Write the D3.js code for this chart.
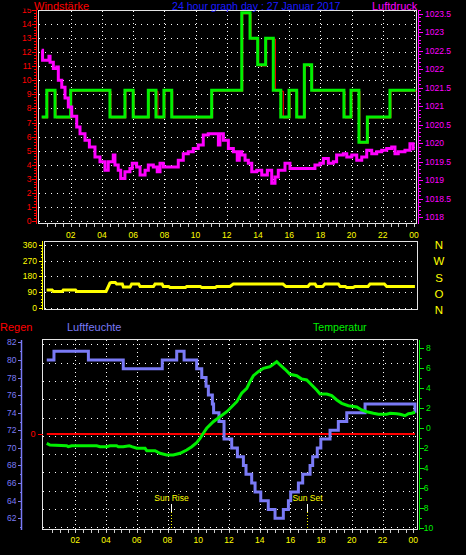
<!DOCTYPE html>
<html><head><meta charset="utf-8">
<script src="https://cdn.jsdelivr.net/npm/d3@7/dist/d3.min.js"></script>
<style>html,body{margin:0;padding:0;background:#000;}svg{display:block;}</style>
</head><body>
<svg id="c" width="466" height="555"></svg>
<script>
// ---------------- DATA ----------------
const hourTicks = [2,4,6,8,10,12,14,16,18,20,22,24];
const hourLabels = ["02","04","06","08","10","12","14","16","18","20","22","00"];

// wind speed (km/h) step series
const windTime  = [0.13,0.46,0.99,1.99,4.51,5.47,6.0,6.97,7.46,7.97,8.47,11.03,12.96,13.49,13.98,14.49,14.98,15.46,15.99,16.48,16.97,17.44,19.51,19.96,20.47,21.01,22.46,24.1];
const windSpeed = [7.4,9.3,7.4,9.3,7.4,9.3,7.4,9.3,7.4,9.3,7.4,9.3,14.8,13.0,11.1,13.0,9.3,7.4,9.3,7.4,11.1,9.3,7.4,9.3,5.6,7.4,9.3,9.3];
// gust (red, under the wind line)
const gustTime  = [0.13,0.46,0.99,1.99,4.51,5.47,6.0,6.97,7.52,7.97,8.47,11.03,12.96,13.49,13.98,14.49,15.05,15.56,15.99,16.48,16.97,17.44,19.51,19.96,20.47,21.01,22.46,24.1];
const gustSpeed = [7.4,9.3,7.4,9.3,7.4,9.3,7.4,9.3,7.4,9.3,7.4,9.3,14.8,13.0,11.1,13.0,9.3,7.4,9.3,7.4,11.1,9.3,7.4,9.3,5.6,7.4,9.3,9.3];

// pressure (hPa)
const presTime = [0.13,0.19,0.54,0.6,0.67,0.88,1.1,1.2,1.42,1.63,1.84,2.06,2.38,2.59,2.91,3.19,3.55,3.87,4.19,4.40,4.72,4.83,5.04,5.2,5.47,5.79,5.94,6.22,6.44,6.76,6.97,7.29,7.54,7.72,7.93,8.57,8.89,9.21,9.53,9.85,10.17,10.49,10.81,11.13,11.46,11.56,11.78,12.1,12.42,12.67,12.8,12.96,13.17,13.38,13.6,13.92,14.24,14.6,14.88,15.09,15.3,15.73,16.05,17.22,17.44,17.65,17.97,18.19,18.51,18.83,19.04,19.47,19.69,20.01,20.33,20.65,20.97,21.29,21.61,21.93,22.25,22.57,22.78,22.99,23.42,23.74,23.95];
const presVal  = [1022.51,1022.24,1022.24,1022.35,1022.19,1022.02,1022.06,1021.70,1021.51,1021.22,1020.98,1020.73,1020.44,1020.26,1020.08,1019.90,1019.63,1019.50,1019.27,1019.50,1019.68,1019.41,1019.27,1019.05,1019.23,1019.32,1019.46,1019.36,1019.14,1019.27,1019.41,1019.36,1019.23,1019.46,1019.36,1019.36,1019.54,1019.72,1019.77,1019.86,1019.95,1020.22,1020.26,1020.26,1019.95,1020.26,1020.08,1019.86,1019.77,1019.54,1019.77,1019.68,1019.54,1019.46,1019.23,1019.27,1019.14,1019.27,1018.92,1019.09,1019.27,1019.46,1019.32,1019.32,1019.32,1019.41,1019.46,1019.59,1019.46,1019.50,1019.68,1019.72,1019.63,1019.68,1019.54,1019.63,1019.81,1019.72,1019.77,1019.81,1019.86,1019.90,1019.72,1019.77,1019.81,1019.99,1019.81];

// wind direction (degrees)
const dirTime = [0.45,0.8,0.88,1.45,1.52,2.3,2.38,4.26,4.51,4.6,4.85,4.94,5.3,5.37,5.8,5.9,6.35,6.44,7.3,7.4,7.85,7.93,8.28,8.36,9.35,9.43,10.3,10.39,11.27,11.35,12.2,12.42,15.6,15.79,17.2,17.33,17.66,17.76,18.15,18.29,19.15,19.26,19.6,19.68,20.1,20.22,21.05,21.18,22.1,22.25,24.06];
const dirVal  = [103,103,94,94,103,103,94,94,142,145,145,136,136,119,119,136,136,122,122,136,136,122,122,117,117,122,122,117,117,122,122,136,136,122,122,136,136,122,122,136,136,122,122,117,117,122,122,136,136,122,122];
const dirTicks = [0,90,180,270,360];
const dirLetters = ["N","O","S","W","N"];

// humidity (%) step series
const humTime = [0.14,0.61,2.85,5.12,7.66,8.6,9.08,9.9,10.23,10.51,10.66,10.92,11.0,11.35,11.68,12.18,12.55,12.94,13.11,13.48,13.70,14.07,14.56,15.0,15.54,15.87,16.02,16.52,16.80,17.28,17.45,17.75,17.98,18.58,19.12,19.67,20.86,24.11];
const humVal  = [80,81,80,79,80,81,80,79,78,77,76,75,74,73,71,70,69,68,67,66,65,64,63,62,63,64,65,66,67,68,69,70,71,72,73,74,75,74];

// temperature (°C)
const tempTime = [0.14,0.35,1.44,1.54,1.76,3.39,3.61,4.04,4.26,4.69,4.8,5.12,5.51,5.67,6.0,6.54,6.65,7.19,7.51,7.95,8.38,8.82,9.25,9.58,9.9,10.12,10.33,10.55,10.98,11.86,12.51,12.83,13.16,13.37,13.59,13.91,14.24,14.67,15.11,15.33,15.65,15.98,16.41,16.74,17.06,17.39,17.71,17.93,18.37,18.69,19.02,19.34,19.77,20.32,20.64,20.97,21.4,21.73,22.27,22.49,22.92,23.14,23.46,23.68,23.9,24.11];
const tempVal  = [-1.56,-1.73,-1.8,-1.9,-1.8,-1.8,-1.9,-1.9,-1.8,-1.8,-1.9,-1.9,-1.8,-1.9,-2.06,-2.06,-2.3,-2.3,-2.56,-2.73,-2.73,-2.56,-2.23,-1.9,-1.5,-1.06,-0.56,-0.06,0.6,1.6,2.6,3.44,3.94,4.6,5.2,5.6,5.94,6.1,6.6,6.27,5.84,5.34,5.2,4.87,4.77,4.27,3.77,3.37,3.37,3.2,2.77,2.44,2.2,2.07,1.77,1.6,1.44,1.34,1.34,1.44,1.4,1.34,1.2,1.4,1.44,1.54];

// rain (mm)
const rainTime = [0.14,24.11];
const rainVal  = [0,0];

const sunTime  = [8.25,17.1];
const sunLabel = ["Sun Rise","Sun Set"];

// ---------------- DRAW ----------------
const FONT = "'Liberation Sans', Arial, sans-serif";
const svg = d3.select("#c");
svg.append("rect").attr("width",466).attr("height",555).attr("fill","#000");

const RED="#ff0000", GREEN="#00f000", MAG="#ff00ff", YEL="#ffff00", LAV="#7a7af5", BLUE="#1a1aff", BORDER="#e4e4e4";

function txt(x,y,s,fill,size,anchor){
  return svg.append("text").attr("x",x).attr("y",y).text(s).attr("fill",fill)
    .attr("font-family",FONT).attr("font-size",size).attr("text-anchor",anchor||"start");
}
function hline(g,x1,x2,y,stroke,dash){
  return g.append("line").attr("x1",x1).attr("x2",x2).attr("y1",y).attr("y2",y)
    .attr("stroke",stroke).attr("stroke-width",1).attr("stroke-dasharray",dash||null).attr("shape-rendering","crispEdges");
}
function vline(g,x,y1,y2,stroke,dash){
  return g.append("line").attr("x1",x).attr("x2",x).attr("y1",y1).attr("y2",y2)
    .attr("stroke",stroke).attr("stroke-width",1).attr("stroke-dasharray",dash||null).attr("shape-rendering","crispEdges");
}
const zip = (a,b)=>a.map((t,i)=>[t,b[i]]);

// ===== Top panel =====
const T = {left:38.5, right:416.5, top:10.5, bottom:223.5};
const xTop = d3.scaleLinear().domain([0,24]).range([39.6,414]);
const yWind = d3.scaleLinear().domain([0,15]).range([221,10]);
const yPres = d3.scaleLinear().domain([1017.9,1023.6]).range([221,10]);
const gT = svg.append("g");
d3.range(0,15).forEach(v=>hline(gT,T.left,T.right,Math.round(yWind(v))+0.5,"#fff","1,5"));
hourTicks.forEach(h=>vline(gT,Math.round(xTop(h))+0.5,T.top,T.bottom,"#fff","1,3"));
gT.append("rect").attr("x",T.left).attr("y",T.top).attr("width",T.right-T.left).attr("height",T.bottom-T.top)
  .attr("fill","none").attr("stroke",BORDER).attr("shape-rendering","crispEdges");
d3.range(0.5,24.01,0.5).forEach(h=>vline(gT,Math.round(xTop(h))+0.5,T.bottom,T.bottom+3,"#ccc"));

// left red axis
vline(gT,36.5,10,224,RED);
d3.range(0,15.01,0.2).forEach(v=>{const y=Math.round(yWind(v))+0.5;hline(gT,34,36.5,y,RED);});
d3.range(0,16).forEach(v=>{const y=Math.round(yWind(v))+0.5;hline(gT,32,36.5,y,RED);
  txt(31.5,yWind(v)+3,String(v),RED,8.5,"end");});
// right pressure axis
vline(gT,418.5,10,224,MAG);
d3.range(1018,1023.61,0.1).forEach(v=>hline(gT,418.5,421,Math.round(yPres(v))+0.5,MAG));
d3.range(1018,1023.51,0.5).forEach(v=>{hline(gT,418.5,423,Math.round(yPres(v))+0.5,MAG);
  txt(425,yPres(v)+3,d3.format("")(Math.round(v*10)/10),MAG,8.5,"start");});

gT.append("path").datum(zip(gustTime,gustSpeed)).attr("fill","none").attr("stroke",RED).attr("stroke-width",1)
  .attr("d",d3.line().curve(d3.curveStepAfter).x(d=>xTop(d[0])+1).y(d=>yWind(d[1])+1));
gT.append("path").datum(zip(windTime,windSpeed)).attr("fill","none").attr("stroke",GREEN).attr("stroke-width",3)
  .attr("d",d3.line().curve(d3.curveStepAfter).x(d=>xTop(d[0])).y(d=>yWind(d[1])));
gT.append("path").datum(zip(presTime,presVal)).attr("fill","none").attr("stroke",MAG).attr("stroke-width",3)
  .attr("d",d3.line().curve(d3.curveStepAfter).x(d=>xTop(d[0])).y(d=>yPres(d[1])));

// title band (hides the upper half of the top axis label, as in the original)
svg.append("rect").attr("x",0).attr("y",0).attr("width",36).attr("height",8.5).attr("fill","#000");
txt(34,10,"Windstärke",RED,11);
txt(172,10,"24 hour graph day : 27 Januar 2017",BLUE,10.6);
txt(372,10,"Luftdruck",MAG,11);

// x labels between top and middle panel
hourTicks.forEach((h,i)=>txt(xTop(h),238,hourLabels[i],YEL,8.5,"middle"));

// ===== Middle panel =====
const M = {left:44.5, right:417.5, top:241.5, bottom:309.5};
const yDir = d3.scaleLinear().domain([0,360]).range([308,244.7]);
const gM = svg.append("g");
dirTicks.forEach(v=>hline(gM,M.left,M.right,Math.round(yDir(v))+0.5,"#fff","1,5"));
gM.append("rect").attr("x",M.left).attr("y",M.top).attr("width",M.right-M.left).attr("height",M.bottom-M.top)
  .attr("fill","none").attr("stroke",BORDER).attr("shape-rendering","crispEdges");
vline(gM,42.5,241,310,YEL);
d3.range(0,360.1,18).forEach(v=>hline(gM,40.5,42.5,Math.round(yDir(v))+0.5,YEL));
dirTicks.forEach(v=>{hline(gM,38.5,42.5,Math.round(yDir(v))+0.5,YEL);txt(37,yDir(v)+3,String(v),YEL,8.5,"end");});
dirTicks.forEach((v,i)=>txt(439,yDir(v)+4.5+(360-v)/200,dirLetters[i],YEL,11.5,"middle"));
gM.append("path").datum(zip(dirTime,dirVal)).attr("fill","none").attr("stroke",YEL).attr("stroke-width",3)
  .attr("d",d3.line().x(d=>xTop(d[0])).y(d=>yDir(d[1])));

// ===== Bottom panel =====
const B = {left:42.5, right:417.5, top:339.5, bottom:529.5};
const xBot = d3.scaleLinear().domain([0,24]).range([44.6,413.3]);
const yHum = d3.scaleLinear().domain([60.7,82.3]).range([529.7,339.7]);
const yTemp = d3.scaleLinear().domain([-10.2,8.8]).range([529.7,339.7]);
const yRain = d3.scaleLinear().domain([0,10]).range([434,339.7]);
const yGrid = d3.scaleLinear().domain([0,10]).range([527.3,344.3]);
const gB = svg.append("g");
yGrid.ticks(10).forEach(v=>hline(gB,B.left,B.right,Math.round(yGrid(v))+0.5,"#fff","1,5"));
hourTicks.forEach(h=>vline(gB,Math.round(xBot(h))+0.5,B.top,B.bottom,"#fff","1,3"));
gB.append("rect").attr("x",B.left).attr("y",B.top).attr("width",B.right-B.left).attr("height",B.bottom-B.top)
  .attr("fill","none").attr("stroke",BORDER).attr("shape-rendering","crispEdges");
d3.range(0.5,24.01,0.5).forEach(h=>vline(gB,Math.round(xBot(h))+0.5,B.bottom,B.bottom+3,"#ccc"));
hourTicks.forEach((h,i)=>txt(xBot(h),543,hourLabels[i],YEL,8.5,"middle"));

// humidity axis (left)
gB.append("line").attr("x1",21.5).attr("x2",21.5).attr("y1",340).attr("y2",530).attr("stroke",LAV).attr("stroke-width",1.5);
d3.range(61,82.1,1).forEach(v=>hline(gB,19.5,21.5,Math.round(yHum(v))+0.5,LAV));
d3.range(62,82.1,2).forEach(v=>{hline(gB,18,21.5,Math.round(yHum(v))+0.5,LAV);txt(16.5,yHum(v)+3,String(v),LAV,8.5,"end");});
// temperature axis (right)
vline(gB,419.5,340,530,GREEN);
d3.range(-10,8.1,1).forEach(v=>hline(gB,419.5,422,Math.round(yTemp(v))+0.5,GREEN));
d3.range(-10,8.1,2).forEach(v=>{hline(gB,419.5,424,Math.round(yTemp(v))+0.5,GREEN);
  txt(v<0?421:426,yTemp(v)+3,String(v),GREEN,8.5,"start");});
// rain axis
txt(33,437,"0",RED,9,"middle");
hline(gB,38,43,Math.round(yRain(0))+0.5,RED);

// sun rise / set
sunTime.forEach((t,i)=>{
  const x=Math.round(xBot(t))+0.5;
  vline(gB,x,504,512,"#fff");
  vline(gB,x,512,529,YEL,"1,2");
  txt(x,501,sunLabel[i],YEL,8.5,"middle");
});

gB.append("path").datum(zip(rainTime,rainVal)).attr("fill","none").attr("stroke",RED).attr("stroke-width",2)
  .attr("d",d3.line().x(d=>xBot(d[0])).y(d=>yRain(d[1])));
gB.append("path").datum(zip(humTime,humVal)).attr("fill","none").attr("stroke",LAV).attr("stroke-width",3)
  .attr("d",d3.line().curve(d3.curveStepAfter).x(d=>xBot(d[0])).y(d=>yHum(d[1])));
gB.append("path").datum(zip(tempTime,tempVal)).attr("fill","none").attr("stroke",GREEN).attr("stroke-width",3)
  .attr("d",d3.line().x(d=>xBot(d[0])).y(d=>yTemp(d[1])));

txt(0,331,"Regen",RED,11);
txt(67,331,"Luftfeuchte",LAV,11);
txt(313,331,"Temperatur",GREEN,10.6);
</script>
</body></html>
